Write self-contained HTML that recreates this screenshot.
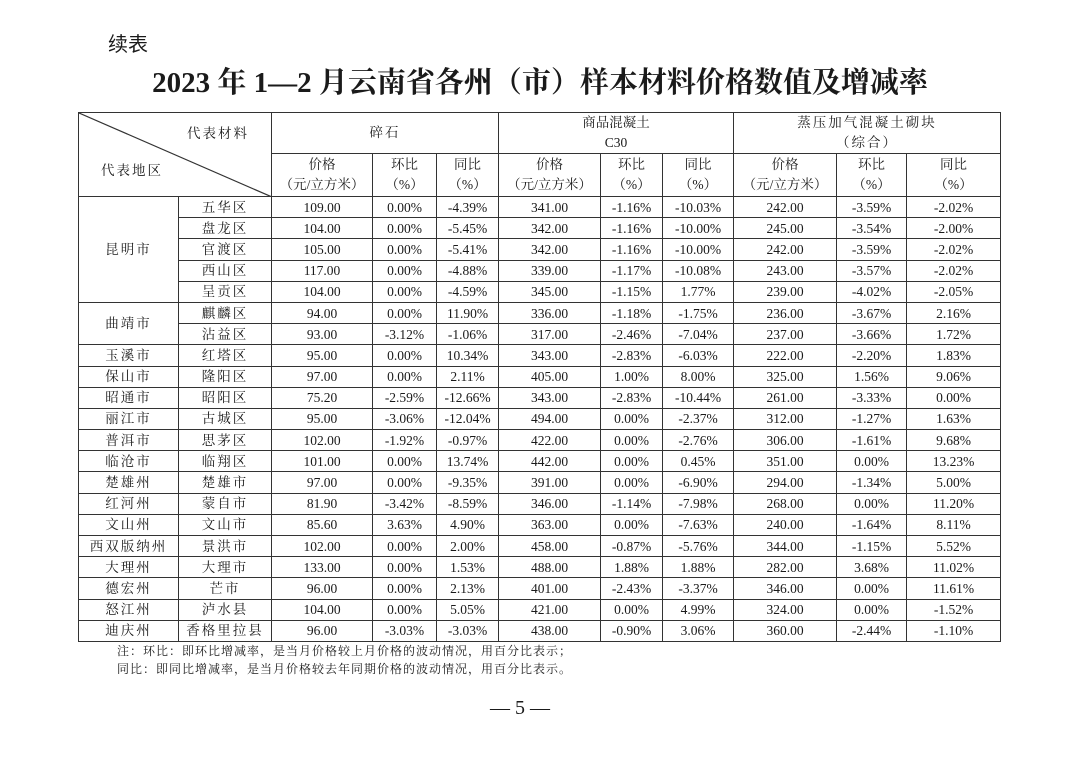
<!DOCTYPE html>
<html><head><meta charset="utf-8">
<style>
body{margin:0;width:1080px;height:760px;background:#fff;position:relative;overflow:hidden;font-family:"Liberation Serif","Noto Serif CJK SC",serif;color:#1a1a1a}
.xb{position:absolute;left:108px;top:28px;font-size:20px;font-family:"Liberation Sans","Noto Sans CJK SC",sans-serif}
.tt{position:absolute;left:0;width:1080px;top:60px;text-align:center;font-size:29px;font-weight:bold;font-family:"Liberation Serif","Noto Serif CJK SC",serif}
table{position:absolute;left:78px;top:112px;border-collapse:collapse;table-layout:fixed;width:922px}
td{border:1.5px solid #333;text-align:center;font-size:13.5px;padding:0;line-height:17px;white-space:nowrap;overflow:hidden}
tr.h td{line-height:20px}
tr.d{height:21.2px}
tr.d td{height:19.7px}
.c{letter-spacing:2px}
.note{position:absolute;left:117px;top:642px;font-size:12px;line-height:18px;letter-spacing:1px}
.pg{position:absolute;left:490px;top:697px;font-size:20px}
</style></head><body>
<div class="xb">续表</div>
<div class="tt">2023 年 1—2 月云南省各州（市）样本材料价格数值及增减率</div>
<table>
<colgroup><col style="width:100px"><col style="width:93px"><col style="width:101px"><col style="width:64px"><col style="width:62px"><col style="width:102px"><col style="width:62px"><col style="width:71px"><col style="width:103px"><col style="width:70px"><col style="width:94px"></colgroup>
<tr class="h" style="height:41px"><td colspan="2" rowspan="2" style="position:relative;text-align:left"><svg style="position:absolute;left:0;top:0" width="193" height="84"><line x1="0" y1="0" x2="193" y2="84" stroke="#333" stroke-width="1.2"/><text x="108" y="25" font-size="13.5" letter-spacing="2" fill="#1a1a1a" font-family="Noto Serif CJK SC,serif">代表材料</text><text x="22" y="62" font-size="13.5" letter-spacing="2" fill="#1a1a1a" font-family="Noto Serif CJK SC,serif">代表地区</text></svg></td>
<td colspan="3" class="c">碎石</td><td colspan="3">商品混凝土<br>C30</td><td colspan="3" class="c">蒸压加气混凝土砌块<br>（综合）</td></tr>
<tr class="h" style="height:43px"><td>价格<br>（元/立方米）</td><td>环比<br>（%）</td><td>同比<br>（%）</td><td>价格<br>（元/立方米）</td><td>环比<br>（%）</td><td>同比<br>（%）</td><td>价格<br>（元/立方米）</td><td>环比<br>（%）</td><td>同比<br>（%）</td></tr>
<tr class="d"><td rowspan="5" class="c">昆明市</td><td class="c">五华区</td><td>109.00</td><td>0.00%</td><td>-4.39%</td><td>341.00</td><td>-1.16%</td><td>-10.03%</td><td>242.00</td><td>-3.59%</td><td>-2.02%</td></tr>
<tr class="d"><td class="c">盘龙区</td><td>104.00</td><td>0.00%</td><td>-5.45%</td><td>342.00</td><td>-1.16%</td><td>-10.00%</td><td>245.00</td><td>-3.54%</td><td>-2.00%</td></tr>
<tr class="d"><td class="c">官渡区</td><td>105.00</td><td>0.00%</td><td>-5.41%</td><td>342.00</td><td>-1.16%</td><td>-10.00%</td><td>242.00</td><td>-3.59%</td><td>-2.02%</td></tr>
<tr class="d"><td class="c">西山区</td><td>117.00</td><td>0.00%</td><td>-4.88%</td><td>339.00</td><td>-1.17%</td><td>-10.08%</td><td>243.00</td><td>-3.57%</td><td>-2.02%</td></tr>
<tr class="d"><td class="c">呈贡区</td><td>104.00</td><td>0.00%</td><td>-4.59%</td><td>345.00</td><td>-1.15%</td><td>1.77%</td><td>239.00</td><td>-4.02%</td><td>-2.05%</td></tr>
<tr class="d"><td rowspan="2" class="c">曲靖市</td><td class="c">麒麟区</td><td>94.00</td><td>0.00%</td><td>11.90%</td><td>336.00</td><td>-1.18%</td><td>-1.75%</td><td>236.00</td><td>-3.67%</td><td>2.16%</td></tr>
<tr class="d"><td class="c">沾益区</td><td>93.00</td><td>-3.12%</td><td>-1.06%</td><td>317.00</td><td>-2.46%</td><td>-7.04%</td><td>237.00</td><td>-3.66%</td><td>1.72%</td></tr>
<tr class="d"><td class="c">玉溪市</td><td class="c">红塔区</td><td>95.00</td><td>0.00%</td><td>10.34%</td><td>343.00</td><td>-2.83%</td><td>-6.03%</td><td>222.00</td><td>-2.20%</td><td>1.83%</td></tr>
<tr class="d"><td class="c">保山市</td><td class="c">隆阳区</td><td>97.00</td><td>0.00%</td><td>2.11%</td><td>405.00</td><td>1.00%</td><td>8.00%</td><td>325.00</td><td>1.56%</td><td>9.06%</td></tr>
<tr class="d"><td class="c">昭通市</td><td class="c">昭阳区</td><td>75.20</td><td>-2.59%</td><td>-12.66%</td><td>343.00</td><td>-2.83%</td><td>-10.44%</td><td>261.00</td><td>-3.33%</td><td>0.00%</td></tr>
<tr class="d"><td class="c">丽江市</td><td class="c">古城区</td><td>95.00</td><td>-3.06%</td><td>-12.04%</td><td>494.00</td><td>0.00%</td><td>-2.37%</td><td>312.00</td><td>-1.27%</td><td>1.63%</td></tr>
<tr class="d"><td class="c">普洱市</td><td class="c">思茅区</td><td>102.00</td><td>-1.92%</td><td>-0.97%</td><td>422.00</td><td>0.00%</td><td>-2.76%</td><td>306.00</td><td>-1.61%</td><td>9.68%</td></tr>
<tr class="d"><td class="c">临沧市</td><td class="c">临翔区</td><td>101.00</td><td>0.00%</td><td>13.74%</td><td>442.00</td><td>0.00%</td><td>0.45%</td><td>351.00</td><td>0.00%</td><td>13.23%</td></tr>
<tr class="d"><td class="c">楚雄州</td><td class="c">楚雄市</td><td>97.00</td><td>0.00%</td><td>-9.35%</td><td>391.00</td><td>0.00%</td><td>-6.90%</td><td>294.00</td><td>-1.34%</td><td>5.00%</td></tr>
<tr class="d"><td class="c">红河州</td><td class="c">蒙自市</td><td>81.90</td><td>-3.42%</td><td>-8.59%</td><td>346.00</td><td>-1.14%</td><td>-7.98%</td><td>268.00</td><td>0.00%</td><td>11.20%</td></tr>
<tr class="d"><td class="c">文山州</td><td class="c">文山市</td><td>85.60</td><td>3.63%</td><td>4.90%</td><td>363.00</td><td>0.00%</td><td>-7.63%</td><td>240.00</td><td>-1.64%</td><td>8.11%</td></tr>
<tr class="d"><td class="c">西双版纳州</td><td class="c">景洪市</td><td>102.00</td><td>0.00%</td><td>2.00%</td><td>458.00</td><td>-0.87%</td><td>-5.76%</td><td>344.00</td><td>-1.15%</td><td>5.52%</td></tr>
<tr class="d"><td class="c">大理州</td><td class="c">大理市</td><td>133.00</td><td>0.00%</td><td>1.53%</td><td>488.00</td><td>1.88%</td><td>1.88%</td><td>282.00</td><td>3.68%</td><td>11.02%</td></tr>
<tr class="d"><td class="c">德宏州</td><td class="c">芒市</td><td>96.00</td><td>0.00%</td><td>2.13%</td><td>401.00</td><td>-2.43%</td><td>-3.37%</td><td>346.00</td><td>0.00%</td><td>11.61%</td></tr>
<tr class="d"><td class="c">怒江州</td><td class="c">泸水县</td><td>104.00</td><td>0.00%</td><td>5.05%</td><td>421.00</td><td>0.00%</td><td>4.99%</td><td>324.00</td><td>0.00%</td><td>-1.52%</td></tr>
<tr class="d"><td class="c">迪庆州</td><td class="c">香格里拉县</td><td>96.00</td><td>-3.03%</td><td>-3.03%</td><td>438.00</td><td>-0.90%</td><td>3.06%</td><td>360.00</td><td>-2.44%</td><td>-1.10%</td></tr>
</table>
<div class="note">注：环比：即环比增减率，是当月价格较上月价格的波动情况，用百分比表示；<br>同比：即同比增减率，是当月价格较去年同期价格的波动情况，用百分比表示。</div>
<div class="pg">— 5 —</div>
</body></html>
